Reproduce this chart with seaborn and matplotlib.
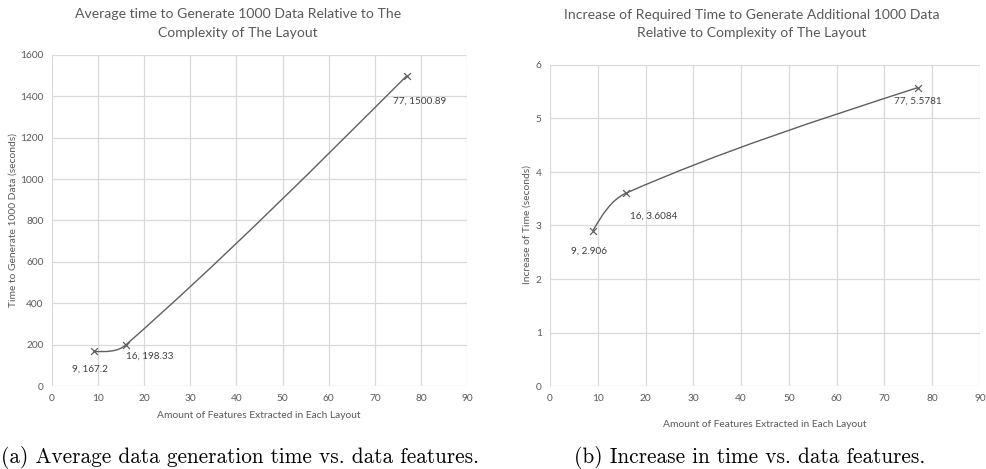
import numpy as np
import matplotlib
matplotlib.use("Agg")
import matplotlib.pyplot as plt
import seaborn as sns
import pandas as pd
from matplotlib.path import Path
from matplotlib.patches import PathPatch

# ---- data ----
features = [9, 16, 77]
gen_time = [167.2, 198.33, 1500.89]
increase = [2.906, 3.6084, 5.5781]
gen_labels = ["9, 167.2", "16, 198.33", "77, 1500.89"]
inc_labels = ["9, 2.906", "16, 3.6084", "77, 5.5781"]
x_ticks = list(range(0, 91, 10))
gen_yticks = list(range(0, 1601, 200))
inc_yticks = list(range(0, 7))

sns.set_style("white")
plt.rcParams["font.family"] = ["Lato", "DejaVu Sans"]

W, H = 987, 469
fig = plt.figure(figsize=(W / 100, H / 100), dpi=100)

GRID = "#d9d9d9"
LINE = "#5f5f5f"
TXT = "#595959"


def px(x, y):
    return x / W, 1 - y / H


def smooth_curve(ax, xs, ys):
    bbox = ax.get_window_extent()
    x0, x1 = ax.get_xlim()
    y0, y1 = ax.get_ylim()
    sx = bbox.width / (x1 - x0)
    sy = bbox.height / (y1 - y0)
    P = np.column_stack([(np.asarray(xs, float) - x0) * sx,
                         (np.asarray(ys, float) - y0) * sy])
    n = len(P)
    dirs = []
    for i in range(n):
        if 0 < i < n - 1:
            d = P[i + 1] - P[i - 1]
            dirs.append(d / np.linalg.norm(d))
        else:
            dirs.append(None)
    verts = [P[0]]
    codes = [Path.MOVETO]
    for i in range(n - 1):
        L = np.linalg.norm(P[i + 1] - P[i])
        c1 = P[i] + dirs[i] * L / 3 if dirs[i] is not None else None
        c2 = P[i + 1] - dirs[i + 1] * L / 3 if dirs[i + 1] is not None else None
        if c1 is None and c2 is None:
            c1 = P[i] + (P[i + 1] - P[i]) / 3
            c2 = P[i] + 2 * (P[i + 1] - P[i]) / 3
        elif c1 is None:
            c1 = P[i] + (c2 - P[i]) / 2
        elif c2 is None:
            c2 = P[i + 1] + (c1 - P[i + 1]) / 2
        verts += [c1, c2, P[i + 1]]
        codes += [Path.CURVE4] * 3
    V = np.array(verts)
    V[:, 0] = V[:, 0] / sx + x0
    V[:, 1] = V[:, 1] / sy + y0
    ax.add_patch(PathPatch(Path(V, codes), fill=False, ec=LINE, lw=1.0,
                           zorder=3))


def setup(ax, yticks):
    ax.set_xlim(0, 90)
    ax.set_ylim(yticks[0], yticks[-1])
    ax.set_xticks(x_ticks)
    ax.set_yticks(yticks)
    ax.grid(True, color=GRID, lw=0.9)
    ax.set_axisbelow(True)
    for s in ax.spines.values():
        s.set_visible(False)
    ax.tick_params(length=0, labelsize=7.3, labelcolor=TXT, pad=6)
    ax.set_xlabel("")
    ax.set_ylabel("")


# ---- left chart ----
ax1 = fig.add_axes([52 / W, 83 / H, 415 / W, 331 / H])
setup(ax1, gen_yticks)
df1 = pd.DataFrame({"x": features, "y": gen_time})
sns.scatterplot(data=df1, x="x", y="y", marker="x", s=24, color=LINE,
                linewidth=0.9, ax=ax1, zorder=4)
setup(ax1, gen_yticks)
smooth_curve(ax1, features, gen_time)
offs1 = [(-4, -18), (24, -11), (13, -26)]
for xv, yv, lab, o in zip(features, gen_time, gen_labels, offs1):
    ax1.annotate(lab, (xv, yv), xytext=o, textcoords="offset pixels",
                 ha="center", va="center", fontsize=7.2, color="#404040")

# ---- right chart ----
ax2 = fig.add_axes([550 / W, 83 / H, 430 / W, 321 / H])
setup(ax2, inc_yticks)
df2 = pd.DataFrame({"x": features, "y": increase})
sns.scatterplot(data=df2, x="x", y="y", marker="x", s=24, color=LINE,
                linewidth=0.9, ax=ax2, zorder=4)
setup(ax2, inc_yticks)
smooth_curve(ax2, features, increase)
offs2 = [(-4, -21), (27, -23), (0, -14)]
for xv, yv, lab, o in zip(features, increase, inc_labels, offs2):
    ax2.annotate(lab, (xv, yv), xytext=o, textcoords="offset pixels",
                 ha="center", va="center", fontsize=7.2, color="#404040")

# ---- titles and axis labels ----
TS = 10.1
fig.text(*px(238, 14), "Average time to Generate 1000 Data Relative to The",
         ha="center", va="center", fontsize=TS, color=TXT)
fig.text(*px(238, 33), "Complexity of The Layout",
         ha="center", va="center", fontsize=TS, color=TXT)
fig.text(*px(752, 15), "Increase of Required Time to Generate Additional 1000 Data",
         ha="center", va="center", fontsize=TS, color=TXT)
fig.text(*px(752, 33), "Relative to Complexity of The Layout",
         ha="center", va="center", fontsize=TS, color=TXT)

fig.text(*px(259, 415), "Amount of Features Extracted in Each Layout",
         ha="center", va="center", fontsize=7.4, color=TXT)
fig.text(*px(765, 424), "Amount of Features Extracted in Each Layout",
         ha="center", va="center", fontsize=7.4, color=TXT)
fig.text(*px(13, 220), "Time to Generate 1000 Data (seconds)",
         ha="center", va="center", rotation=90, fontsize=7.4, color=TXT)
fig.text(*px(527, 225), "Increase of Time (seconds)",
         ha="center", va="center", rotation=90, fontsize=7.4, color=TXT)

# ---- captions ----
CS = 15.3
fig.text(*px(240, 457), "(a) Average data generation time vs. data features.",
         ha="center", va="center", fontsize=CS, color="black",
         family=["cmr10", "DejaVu Serif"])
fig.text(*px(750, 457), "(b) Increase in time vs. data features.",
         ha="center", va="center", fontsize=CS, color="black",
         family=["cmr10", "DejaVu Serif"])

fig.savefig("out.png", dpi=100)
